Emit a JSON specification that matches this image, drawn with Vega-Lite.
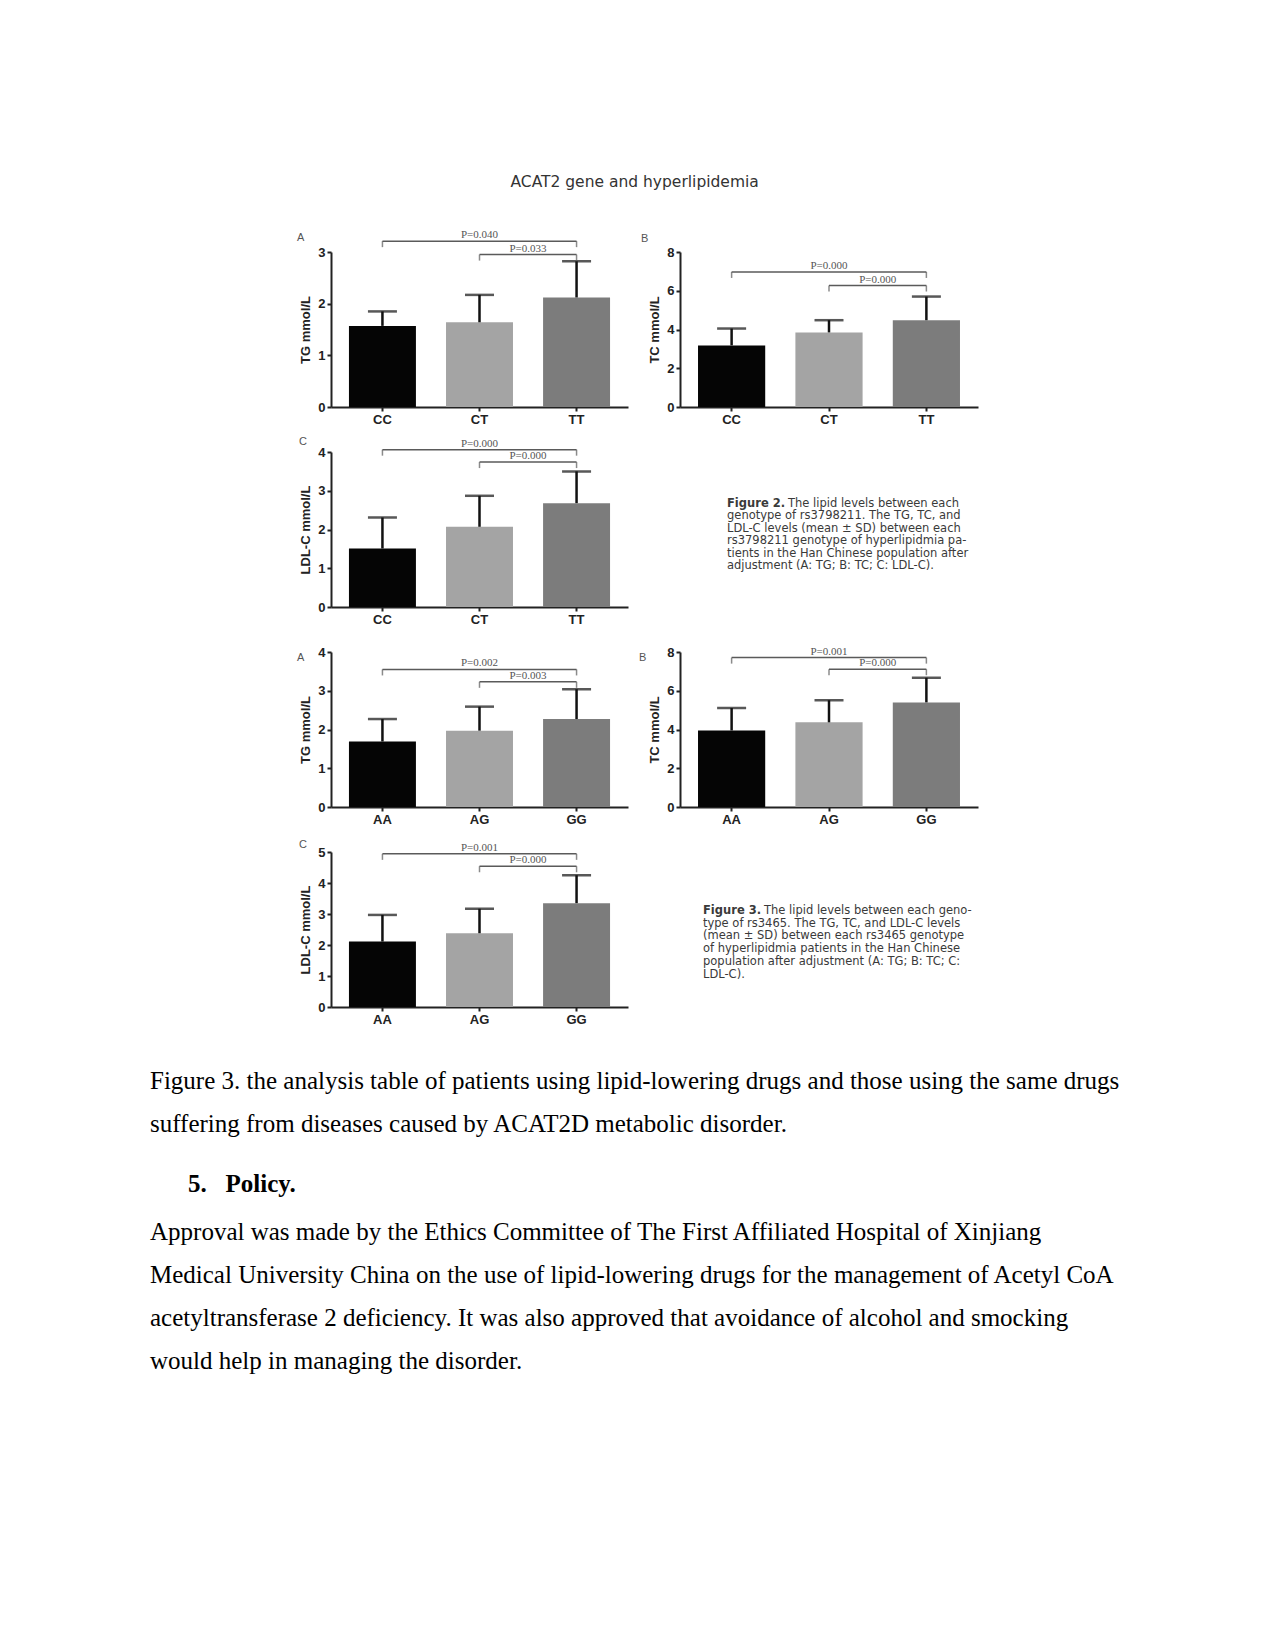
{
  "$schema": "https://vega.github.io/schema/vega-lite/v6.json",
  "background": "white",
  "padding": {"left": 150, "top": 174, "right": 10, "bottom": 10},
  "title": {"text": "ACAT2 gene and hyperlipidemia", "anchor": "middle", "frame": "bounds", "offset": 0, "dy": -32, "dx": 0, "baseline": "middle", "font": "DejaVu Sans", "fontSize": 15.5, "fontWeight": "normal", "color": "#333333"},
  "columns": 3,
  "spacing": {"row": 45, "column": 52},
  "align": "each",
  "bounds": "flush",
  "resolve": {"scale": {"color": "independent"}},
  "datasets": {
    "f2tg": [{"genotype": "CC", "mean": 1.57, "upper": 1.85}, {"genotype": "CT", "mean": 1.64, "upper": 2.17}, {"genotype": "TT", "mean": 2.12, "upper": 2.82}],
    "f2tg_p": [{"span": "long", "from": "CC", "to": "TT", "labelAt": "CT", "level": 3.21, "label": "P=0.040"}, {"span": "short", "from": "CT", "to": "TT", "labelAt": "TT", "level": 2.95, "label": "P=0.033"}],
    "f2tc": [{"genotype": "CC", "mean": 3.18, "upper": 4.05}, {"genotype": "CT", "mean": 3.85, "upper": 4.48}, {"genotype": "TT", "mean": 4.48, "upper": 5.7}],
    "f2tc_p": [{"span": "long", "from": "CC", "to": "TT", "labelAt": "CT", "level": 6.97, "label": "P=0.000"}, {"span": "short", "from": "CT", "to": "TT", "labelAt": "TT", "level": 6.27, "label": "P=0.000"}],
    "f2ldl": [{"genotype": "CC", "mean": 1.51, "upper": 2.31}, {"genotype": "CT", "mean": 2.07, "upper": 2.87}, {"genotype": "TT", "mean": 2.68, "upper": 3.5}],
    "f2ldl_p": [{"span": "long", "from": "CC", "to": "TT", "labelAt": "CT", "level": 4.06, "label": "P=0.000"}, {"span": "short", "from": "CT", "to": "TT", "labelAt": "TT", "level": 3.74, "label": "P=0.000"}],
    "f3tg": [{"genotype": "AA", "mean": 1.69, "upper": 2.27}, {"genotype": "AG", "mean": 1.97, "upper": 2.59}, {"genotype": "GG", "mean": 2.27, "upper": 3.04}],
    "f3tg_p": [{"span": "long", "from": "AA", "to": "GG", "labelAt": "AG", "level": 3.55, "label": "P=0.002"}, {"span": "short", "from": "AG", "to": "GG", "labelAt": "GG", "level": 3.23, "label": "P=0.003"}],
    "f3tc": [{"genotype": "AA", "mean": 3.95, "upper": 5.11}, {"genotype": "AG", "mean": 4.37, "upper": 5.51}, {"genotype": "GG", "mean": 5.4, "upper": 6.67}],
    "f3tc_p": [{"span": "long", "from": "AA", "to": "GG", "labelAt": "AG", "level": 7.71, "label": "P=0.001"}, {"span": "short", "from": "AG", "to": "GG", "labelAt": "GG", "level": 7.11, "label": "P=0.000"}],
    "f3ldl": [{"genotype": "AA", "mean": 2.11, "upper": 2.97}, {"genotype": "AG", "mean": 2.38, "upper": 3.17}, {"genotype": "GG", "mean": 3.35, "upper": 4.25}],
    "f3ldl_p": [{"span": "long", "from": "AA", "to": "GG", "labelAt": "AG", "level": 4.94, "label": "P=0.001"}, {"span": "short", "from": "AG", "to": "GG", "labelAt": "GG", "level": 4.54, "label": "P=0.000"}],
    "cap2": [
      {"line": 0, "part": "label", "text": "Figure 2."},
      {"line": 0, "part": "first", "text": "The lipid levels between each"},
      {"line": 1, "part": "rest", "text": "genotype of rs3798211. The TG, TC, and"},
      {"line": 2, "part": "rest", "text": "LDL-C levels (mean ± SD) between each"},
      {"line": 3, "part": "rest", "text": "rs3798211 genotype of hyperlipidmia pa-"},
      {"line": 4, "part": "rest", "text": "tients in the Han Chinese population after"},
      {"line": 5, "part": "rest", "text": "adjustment (A: TG; B: TC; C: LDL-C)."}
    ],
    "cap3": [
      {"line": 0, "part": "label", "text": "Figure 3."},
      {"line": 0, "part": "first", "text": "The lipid levels between each geno-"},
      {"line": 1, "part": "rest", "text": "type of rs3465. The TG, TC, and LDL-C levels"},
      {"line": 2, "part": "rest", "text": "(mean ± SD) between each rs3465 genotype"},
      {"line": 3, "part": "rest", "text": "of hyperlipidmia patients in the Han Chinese"},
      {"line": 4, "part": "rest", "text": "population after adjustment (A: TG; B: TC; C:"},
      {"line": 5, "part": "rest", "text": "LDL-C)."}
    ],
    "pagetext": [
      {"line": 0, "part": "caption", "text": "Figure 3. the analysis table of patients using lipid-lowering drugs and those using the same drugs"},
      {"line": 1, "part": "caption", "text": "suffering from diseases caused by ACAT2D metabolic disorder."},
      {"line": 2, "part": "heading", "text": "5.\u00a0\u00a0\u00a0Policy."},
      {"line": 3, "part": "body", "text": "Approval was made by the Ethics Committee of The First Affiliated Hospital of Xinjiang"},
      {"line": 4, "part": "body", "text": "Medical University China on the use of lipid-lowering drugs for the management of Acetyl CoA"},
      {"line": 5, "part": "body", "text": "acetyltransferase 2 deficiency. It was also approved that avoidance of alcohol and smocking"},
      {"line": 6, "part": "body", "text": "would help in managing the disorder."}
    ]
  },
  "concat": [
    {"width": 129, "height": 155, "data": {"values": [{}]}, "mark": {"type": "text"}, "encoding": {"text": {"value": ""}}},
    {
      "width": 297, "height": 155,
      "title": {"text": "A", "anchor": "start", "frame": "group", "offset": 0, "dx": -34, "dy": 20, "baseline": "middle", "font": "Liberation Sans", "fontSize": 11, "fontWeight": "normal", "color": "#555555"},
      "resolve": {"axis": {"x": "independent", "y": "independent"}},
      "layer": [
        {"data": {"name": "f2tg"}, "mark": {"type": "bar", "width": {"band": 0.69}},
         "encoding": {
           "x": {"field": "genotype", "type": "nominal", "scale": {"domain": ["CC", "CT", "TT"], "paddingInner": 0, "paddingOuter": 0.03}, "axis": {"title": null, "labelAngle": 0}},
           "y": {"field": "mean", "type": "quantitative", "scale": {"domain": [0, 3], "nice": false}, "axis": {"values": [0, 1, 2, 3], "title": "TG mmol/L", "labelAngle": 0, "labelOverlap": false}},
           "color": {"field": "genotype", "type": "nominal", "scale": {"domain": ["CC", "CT", "TT"], "range": ["#050505", "#a4a4a4", "#7c7c7c"]}, "legend": null}}},
        {"data": {"name": "f2tg"}, "mark": {"type": "rule", "color": "#111111", "strokeWidth": 2.5},
         "encoding": {"x": {"field": "genotype", "type": "nominal", "axis": null}, "y": {"field": "mean", "type": "quantitative", "scale": {"domain": [0, 3], "nice": false}, "axis": null}, "y2": {"field": "upper"}}},
        {"data": {"name": "f2tg"}, "mark": {"type": "tick", "color": "#111111", "thickness": 2.5, "size": 29},
         "encoding": {"x": {"field": "genotype", "type": "nominal", "axis": null}, "y": {"field": "upper", "type": "quantitative", "scale": {"domain": [0, 3], "nice": false}, "axis": null}}},
        {"data": {"name": "f2tg_p"}, "mark": {"type": "rule", "color": "#5a5a5a", "strokeWidth": 1.5},
         "encoding": {"x": {"field": "from", "type": "nominal", "axis": null}, "x2": {"field": "to"}, "y": {"field": "level", "type": "quantitative", "scale": {"domain": [0, 3], "nice": false}, "axis": null}}},
        {"data": {"name": "f2tg_p"}, "mark": {"type": "tick", "orient": "vertical", "color": "#5a5a5a", "thickness": 1.5, "size": 6, "yOffset": 3},
         "encoding": {"x": {"field": "from", "type": "nominal", "axis": null}, "y": {"field": "level", "type": "quantitative", "scale": {"domain": [0, 3], "nice": false}, "axis": null}}},
        {"data": {"name": "f2tg_p"}, "mark": {"type": "tick", "orient": "vertical", "color": "#5a5a5a", "thickness": 1.5, "size": 6, "yOffset": 3},
         "encoding": {"x": {"field": "to", "type": "nominal", "axis": null}, "y": {"field": "level", "type": "quantitative", "scale": {"domain": [0, 3], "nice": false}, "axis": null}}},
        {"data": {"name": "f2tg_p"}, "transform": [{"filter": "datum.span == 'long'"}], "mark": {"type": "text", "font": "Liberation Serif", "fontSize": 11, "color": "#555555", "baseline": "bottom", "dy": -1},
         "encoding": {"x": {"field": "labelAt", "type": "nominal", "axis": null}, "y": {"field": "level", "type": "quantitative", "scale": {"domain": [0, 3], "nice": false}, "axis": null}, "text": {"field": "label"}}},
        {"data": {"name": "f2tg_p"}, "transform": [{"filter": "datum.span == 'short'"}], "mark": {"type": "text", "font": "Liberation Serif", "fontSize": 11, "color": "#555555", "baseline": "bottom", "dy": -1},
         "encoding": {"x": {"field": "labelAt", "type": "nominal", "bandPosition": 0, "axis": null}, "y": {"field": "level", "type": "quantitative", "scale": {"domain": [0, 3], "nice": false}, "axis": null}, "text": {"field": "label"}}}
      ]
    },
    {
      "width": 298, "height": 155,
      "title": {"text": "B", "anchor": "start", "frame": "group", "offset": 0, "dx": -39, "dy": 3.5, "baseline": "middle", "font": "Liberation Sans", "fontSize": 11, "fontWeight": "normal", "color": "#555555"},
      "resolve": {"axis": {"x": "independent", "y": "independent"}},
      "layer": [
        {"data": {"name": "f2tc"}, "mark": {"type": "bar", "width": {"band": 0.69}},
         "encoding": {
           "x": {"field": "genotype", "type": "nominal", "scale": {"domain": ["CC", "CT", "TT"], "paddingInner": 0, "paddingOuter": 0.03}, "axis": {"title": null, "labelAngle": 0}},
           "y": {"field": "mean", "type": "quantitative", "scale": {"domain": [0, 8], "nice": false}, "axis": {"values": [0, 2, 4, 6, 8], "title": "TC mmol/L", "labelAngle": 0, "labelOverlap": false}},
           "color": {"field": "genotype", "type": "nominal", "scale": {"domain": ["CC", "CT", "TT"], "range": ["#050505", "#a4a4a4", "#7c7c7c"]}, "legend": null}}},
        {"data": {"name": "f2tc"}, "mark": {"type": "rule", "color": "#111111", "strokeWidth": 2.5},
         "encoding": {"x": {"field": "genotype", "type": "nominal", "axis": null}, "y": {"field": "mean", "type": "quantitative", "scale": {"domain": [0, 8], "nice": false}, "axis": null}, "y2": {"field": "upper"}}},
        {"data": {"name": "f2tc"}, "mark": {"type": "tick", "color": "#111111", "thickness": 2.5, "size": 29},
         "encoding": {"x": {"field": "genotype", "type": "nominal", "axis": null}, "y": {"field": "upper", "type": "quantitative", "scale": {"domain": [0, 8], "nice": false}, "axis": null}}},
        {"data": {"name": "f2tc_p"}, "mark": {"type": "rule", "color": "#5a5a5a", "strokeWidth": 1.5},
         "encoding": {"x": {"field": "from", "type": "nominal", "axis": null}, "x2": {"field": "to"}, "y": {"field": "level", "type": "quantitative", "scale": {"domain": [0, 8], "nice": false}, "axis": null}}},
        {"data": {"name": "f2tc_p"}, "mark": {"type": "tick", "orient": "vertical", "color": "#5a5a5a", "thickness": 1.5, "size": 6, "yOffset": 3},
         "encoding": {"x": {"field": "from", "type": "nominal", "axis": null}, "y": {"field": "level", "type": "quantitative", "scale": {"domain": [0, 8], "nice": false}, "axis": null}}},
        {"data": {"name": "f2tc_p"}, "mark": {"type": "tick", "orient": "vertical", "color": "#5a5a5a", "thickness": 1.5, "size": 6, "yOffset": 3},
         "encoding": {"x": {"field": "to", "type": "nominal", "axis": null}, "y": {"field": "level", "type": "quantitative", "scale": {"domain": [0, 8], "nice": false}, "axis": null}}},
        {"data": {"name": "f2tc_p"}, "transform": [{"filter": "datum.span == 'long'"}], "mark": {"type": "text", "font": "Liberation Serif", "fontSize": 11, "color": "#555555", "baseline": "bottom", "dy": -1},
         "encoding": {"x": {"field": "labelAt", "type": "nominal", "axis": null}, "y": {"field": "level", "type": "quantitative", "scale": {"domain": [0, 8], "nice": false}, "axis": null}, "text": {"field": "label"}}},
        {"data": {"name": "f2tc_p"}, "transform": [{"filter": "datum.span == 'short'"}], "mark": {"type": "text", "font": "Liberation Serif", "fontSize": 11, "color": "#555555", "baseline": "bottom", "dy": -1},
         "encoding": {"x": {"field": "labelAt", "type": "nominal", "bandPosition": 0, "axis": null}, "y": {"field": "level", "type": "quantitative", "scale": {"domain": [0, 8], "nice": false}, "axis": null}, "text": {"field": "label"}}}
      ]
    },
    {"width": 129, "height": 155, "data": {"values": [{}]}, "mark": {"type": "text"}, "encoding": {"text": {"value": ""}}},
    {
      "width": 297, "height": 155,
      "title": {"text": "C", "anchor": "start", "frame": "group", "offset": 0, "dx": -32, "dy": 15, "baseline": "middle", "font": "Liberation Sans", "fontSize": 11, "fontWeight": "normal", "color": "#555555"},
      "resolve": {"axis": {"x": "independent", "y": "independent"}},
      "layer": [
        {"data": {"name": "f2ldl"}, "mark": {"type": "bar", "width": {"band": 0.69}},
         "encoding": {
           "x": {"field": "genotype", "type": "nominal", "scale": {"domain": ["CC", "CT", "TT"], "paddingInner": 0, "paddingOuter": 0.03}, "axis": {"title": null, "labelAngle": 0}},
           "y": {"field": "mean", "type": "quantitative", "scale": {"domain": [0, 4], "nice": false}, "axis": {"values": [0, 1, 2, 3, 4], "title": "LDL-C mmol/L", "labelAngle": 0, "labelOverlap": false}},
           "color": {"field": "genotype", "type": "nominal", "scale": {"domain": ["CC", "CT", "TT"], "range": ["#050505", "#a4a4a4", "#7c7c7c"]}, "legend": null}}},
        {"data": {"name": "f2ldl"}, "mark": {"type": "rule", "color": "#111111", "strokeWidth": 2.5},
         "encoding": {"x": {"field": "genotype", "type": "nominal", "axis": null}, "y": {"field": "mean", "type": "quantitative", "scale": {"domain": [0, 4], "nice": false}, "axis": null}, "y2": {"field": "upper"}}},
        {"data": {"name": "f2ldl"}, "mark": {"type": "tick", "color": "#111111", "thickness": 2.5, "size": 29},
         "encoding": {"x": {"field": "genotype", "type": "nominal", "axis": null}, "y": {"field": "upper", "type": "quantitative", "scale": {"domain": [0, 4], "nice": false}, "axis": null}}},
        {"data": {"name": "f2ldl_p"}, "mark": {"type": "rule", "color": "#5a5a5a", "strokeWidth": 1.5},
         "encoding": {"x": {"field": "from", "type": "nominal", "axis": null}, "x2": {"field": "to"}, "y": {"field": "level", "type": "quantitative", "scale": {"domain": [0, 4], "nice": false}, "axis": null}}},
        {"data": {"name": "f2ldl_p"}, "mark": {"type": "tick", "orient": "vertical", "color": "#5a5a5a", "thickness": 1.5, "size": 6, "yOffset": 3},
         "encoding": {"x": {"field": "from", "type": "nominal", "axis": null}, "y": {"field": "level", "type": "quantitative", "scale": {"domain": [0, 4], "nice": false}, "axis": null}}},
        {"data": {"name": "f2ldl_p"}, "mark": {"type": "tick", "orient": "vertical", "color": "#5a5a5a", "thickness": 1.5, "size": 6, "yOffset": 3},
         "encoding": {"x": {"field": "to", "type": "nominal", "axis": null}, "y": {"field": "level", "type": "quantitative", "scale": {"domain": [0, 4], "nice": false}, "axis": null}}},
        {"data": {"name": "f2ldl_p"}, "transform": [{"filter": "datum.span == 'long'"}], "mark": {"type": "text", "font": "Liberation Serif", "fontSize": 11, "color": "#555555", "baseline": "bottom", "dy": -1},
         "encoding": {"x": {"field": "labelAt", "type": "nominal", "axis": null}, "y": {"field": "level", "type": "quantitative", "scale": {"domain": [0, 4], "nice": false}, "axis": null}, "text": {"field": "label"}}},
        {"data": {"name": "f2ldl_p"}, "transform": [{"filter": "datum.span == 'short'"}], "mark": {"type": "text", "font": "Liberation Serif", "fontSize": 11, "color": "#555555", "baseline": "bottom", "dy": -1},
         "encoding": {"x": {"field": "labelAt", "type": "nominal", "bandPosition": 0, "axis": null}, "y": {"field": "level", "type": "quantitative", "scale": {"domain": [0, 4], "nice": false}, "axis": null}, "text": {"field": "label"}}}
      ]
    },
    {
      "width": 298, "height": 155,
      "data": {"name": "cap2"},
      "encoding": {"y": {"field": "line", "type": "quantitative", "scale": {"domain": [0, 12.5], "reverse": true}, "axis": null}, "text": {"field": "text"}},
      "layer": [
        {"transform": [{"filter": "datum.part == 'label'"}], "mark": {"type": "text", "align": "left", "baseline": "middle", "font": "DejaVu Sans", "fontSize": 11.5, "fontWeight": "bold", "color": "#3a3a3a", "dy": 52}, "encoding": {"x": {"value": 47}}},
        {"transform": [{"filter": "datum.part == 'first'"}], "mark": {"type": "text", "align": "left", "baseline": "middle", "font": "DejaVu Sans", "fontSize": 11.5, "color": "#3a3a3a", "dy": 52}, "encoding": {"x": {"value": 108}}},
        {"transform": [{"filter": "datum.part == 'rest'"}], "mark": {"type": "text", "align": "left", "baseline": "middle", "font": "DejaVu Sans", "fontSize": 11.5, "color": "#3a3a3a", "dy": 52}, "encoding": {"x": {"value": 47}}}
      ]
    },
    {"width": 129, "height": 155, "data": {"values": [{}]}, "mark": {"type": "text"}, "encoding": {"text": {"value": ""}}},
    {
      "width": 297, "height": 155,
      "title": {"text": "A", "anchor": "start", "frame": "group", "offset": 0, "dx": -34, "dy": 22.5, "baseline": "middle", "font": "Liberation Sans", "fontSize": 11, "fontWeight": "normal", "color": "#555555"},
      "resolve": {"axis": {"x": "independent", "y": "independent"}},
      "layer": [
        {"data": {"name": "f3tg"}, "mark": {"type": "bar", "width": {"band": 0.69}},
         "encoding": {
           "x": {"field": "genotype", "type": "nominal", "scale": {"domain": ["AA", "AG", "GG"], "paddingInner": 0, "paddingOuter": 0.03}, "axis": {"title": null, "labelAngle": 0}},
           "y": {"field": "mean", "type": "quantitative", "scale": {"domain": [0, 4], "nice": false}, "axis": {"values": [0, 1, 2, 3, 4], "title": "TG mmol/L", "labelAngle": 0, "labelOverlap": false}},
           "color": {"field": "genotype", "type": "nominal", "scale": {"domain": ["AA", "AG", "GG"], "range": ["#050505", "#a4a4a4", "#7c7c7c"]}, "legend": null}}},
        {"data": {"name": "f3tg"}, "mark": {"type": "rule", "color": "#111111", "strokeWidth": 2.5},
         "encoding": {"x": {"field": "genotype", "type": "nominal", "axis": null}, "y": {"field": "mean", "type": "quantitative", "scale": {"domain": [0, 4], "nice": false}, "axis": null}, "y2": {"field": "upper"}}},
        {"data": {"name": "f3tg"}, "mark": {"type": "tick", "color": "#111111", "thickness": 2.5, "size": 29},
         "encoding": {"x": {"field": "genotype", "type": "nominal", "axis": null}, "y": {"field": "upper", "type": "quantitative", "scale": {"domain": [0, 4], "nice": false}, "axis": null}}},
        {"data": {"name": "f3tg_p"}, "mark": {"type": "rule", "color": "#5a5a5a", "strokeWidth": 1.5},
         "encoding": {"x": {"field": "from", "type": "nominal", "axis": null}, "x2": {"field": "to"}, "y": {"field": "level", "type": "quantitative", "scale": {"domain": [0, 4], "nice": false}, "axis": null}}},
        {"data": {"name": "f3tg_p"}, "mark": {"type": "tick", "orient": "vertical", "color": "#5a5a5a", "thickness": 1.5, "size": 6, "yOffset": 3},
         "encoding": {"x": {"field": "from", "type": "nominal", "axis": null}, "y": {"field": "level", "type": "quantitative", "scale": {"domain": [0, 4], "nice": false}, "axis": null}}},
        {"data": {"name": "f3tg_p"}, "mark": {"type": "tick", "orient": "vertical", "color": "#5a5a5a", "thickness": 1.5, "size": 6, "yOffset": 3},
         "encoding": {"x": {"field": "to", "type": "nominal", "axis": null}, "y": {"field": "level", "type": "quantitative", "scale": {"domain": [0, 4], "nice": false}, "axis": null}}},
        {"data": {"name": "f3tg_p"}, "transform": [{"filter": "datum.span == 'long'"}], "mark": {"type": "text", "font": "Liberation Serif", "fontSize": 11, "color": "#555555", "baseline": "bottom", "dy": -1},
         "encoding": {"x": {"field": "labelAt", "type": "nominal", "axis": null}, "y": {"field": "level", "type": "quantitative", "scale": {"domain": [0, 4], "nice": false}, "axis": null}, "text": {"field": "label"}}},
        {"data": {"name": "f3tg_p"}, "transform": [{"filter": "datum.span == 'short'"}], "mark": {"type": "text", "font": "Liberation Serif", "fontSize": 11, "color": "#555555", "baseline": "bottom", "dy": -1},
         "encoding": {"x": {"field": "labelAt", "type": "nominal", "bandPosition": 0, "axis": null}, "y": {"field": "level", "type": "quantitative", "scale": {"domain": [0, 4], "nice": false}, "axis": null}, "text": {"field": "label"}}}
      ]
    },
    {
      "width": 298, "height": 155,
      "title": {"text": "B", "anchor": "start", "frame": "group", "offset": 0, "dx": -41, "dy": 23, "baseline": "middle", "font": "Liberation Sans", "fontSize": 11, "fontWeight": "normal", "color": "#555555"},
      "resolve": {"axis": {"x": "independent", "y": "independent"}},
      "layer": [
        {"data": {"name": "f3tc"}, "mark": {"type": "bar", "width": {"band": 0.69}},
         "encoding": {
           "x": {"field": "genotype", "type": "nominal", "scale": {"domain": ["AA", "AG", "GG"], "paddingInner": 0, "paddingOuter": 0.03}, "axis": {"title": null, "labelAngle": 0}},
           "y": {"field": "mean", "type": "quantitative", "scale": {"domain": [0, 8], "nice": false}, "axis": {"values": [0, 2, 4, 6, 8], "title": "TC mmol/L", "labelAngle": 0, "labelOverlap": false}},
           "color": {"field": "genotype", "type": "nominal", "scale": {"domain": ["AA", "AG", "GG"], "range": ["#050505", "#a4a4a4", "#7c7c7c"]}, "legend": null}}},
        {"data": {"name": "f3tc"}, "mark": {"type": "rule", "color": "#111111", "strokeWidth": 2.5},
         "encoding": {"x": {"field": "genotype", "type": "nominal", "axis": null}, "y": {"field": "mean", "type": "quantitative", "scale": {"domain": [0, 8], "nice": false}, "axis": null}, "y2": {"field": "upper"}}},
        {"data": {"name": "f3tc"}, "mark": {"type": "tick", "color": "#111111", "thickness": 2.5, "size": 29},
         "encoding": {"x": {"field": "genotype", "type": "nominal", "axis": null}, "y": {"field": "upper", "type": "quantitative", "scale": {"domain": [0, 8], "nice": false}, "axis": null}}},
        {"data": {"name": "f3tc_p"}, "mark": {"type": "rule", "color": "#5a5a5a", "strokeWidth": 1.5},
         "encoding": {"x": {"field": "from", "type": "nominal", "axis": null}, "x2": {"field": "to"}, "y": {"field": "level", "type": "quantitative", "scale": {"domain": [0, 8], "nice": false}, "axis": null}}},
        {"data": {"name": "f3tc_p"}, "mark": {"type": "tick", "orient": "vertical", "color": "#5a5a5a", "thickness": 1.5, "size": 6, "yOffset": 3},
         "encoding": {"x": {"field": "from", "type": "nominal", "axis": null}, "y": {"field": "level", "type": "quantitative", "scale": {"domain": [0, 8], "nice": false}, "axis": null}}},
        {"data": {"name": "f3tc_p"}, "mark": {"type": "tick", "orient": "vertical", "color": "#5a5a5a", "thickness": 1.5, "size": 6, "yOffset": 3},
         "encoding": {"x": {"field": "to", "type": "nominal", "axis": null}, "y": {"field": "level", "type": "quantitative", "scale": {"domain": [0, 8], "nice": false}, "axis": null}}},
        {"data": {"name": "f3tc_p"}, "transform": [{"filter": "datum.span == 'long'"}], "mark": {"type": "text", "font": "Liberation Serif", "fontSize": 11, "color": "#555555", "baseline": "bottom", "dy": -1},
         "encoding": {"x": {"field": "labelAt", "type": "nominal", "axis": null}, "y": {"field": "level", "type": "quantitative", "scale": {"domain": [0, 8], "nice": false}, "axis": null}, "text": {"field": "label"}}},
        {"data": {"name": "f3tc_p"}, "transform": [{"filter": "datum.span == 'short'"}], "mark": {"type": "text", "font": "Liberation Serif", "fontSize": 11, "color": "#555555", "baseline": "bottom", "dy": -1},
         "encoding": {"x": {"field": "labelAt", "type": "nominal", "bandPosition": 0, "axis": null}, "y": {"field": "level", "type": "quantitative", "scale": {"domain": [0, 8], "nice": false}, "axis": null}, "text": {"field": "label"}}}
      ]
    },
    {"width": 129, "height": 155, "data": {"values": [{}]}, "mark": {"type": "text"}, "encoding": {"text": {"value": ""}}},
    {
      "width": 297, "height": 155,
      "title": {"text": "C", "anchor": "start", "frame": "group", "offset": 0, "dx": -32, "dy": 14.5, "baseline": "middle", "font": "Liberation Sans", "fontSize": 11, "fontWeight": "normal", "color": "#555555"},
      "resolve": {"axis": {"x": "independent", "y": "independent"}},
      "layer": [
        {"data": {"name": "f3ldl"}, "mark": {"type": "bar", "width": {"band": 0.69}},
         "encoding": {
           "x": {"field": "genotype", "type": "nominal", "scale": {"domain": ["AA", "AG", "GG"], "paddingInner": 0, "paddingOuter": 0.03}, "axis": {"title": null, "labelAngle": 0}},
           "y": {"field": "mean", "type": "quantitative", "scale": {"domain": [0, 5], "nice": false}, "axis": {"values": [0, 1, 2, 3, 4, 5], "title": "LDL-C mmol/L", "labelAngle": 0, "labelOverlap": false}},
           "color": {"field": "genotype", "type": "nominal", "scale": {"domain": ["AA", "AG", "GG"], "range": ["#050505", "#a4a4a4", "#7c7c7c"]}, "legend": null}}},
        {"data": {"name": "f3ldl"}, "mark": {"type": "rule", "color": "#111111", "strokeWidth": 2.5},
         "encoding": {"x": {"field": "genotype", "type": "nominal", "axis": null}, "y": {"field": "mean", "type": "quantitative", "scale": {"domain": [0, 5], "nice": false}, "axis": null}, "y2": {"field": "upper"}}},
        {"data": {"name": "f3ldl"}, "mark": {"type": "tick", "color": "#111111", "thickness": 2.5, "size": 29},
         "encoding": {"x": {"field": "genotype", "type": "nominal", "axis": null}, "y": {"field": "upper", "type": "quantitative", "scale": {"domain": [0, 5], "nice": false}, "axis": null}}},
        {"data": {"name": "f3ldl_p"}, "mark": {"type": "rule", "color": "#5a5a5a", "strokeWidth": 1.5},
         "encoding": {"x": {"field": "from", "type": "nominal", "axis": null}, "x2": {"field": "to"}, "y": {"field": "level", "type": "quantitative", "scale": {"domain": [0, 5], "nice": false}, "axis": null}}},
        {"data": {"name": "f3ldl_p"}, "mark": {"type": "tick", "orient": "vertical", "color": "#5a5a5a", "thickness": 1.5, "size": 6, "yOffset": 3},
         "encoding": {"x": {"field": "from", "type": "nominal", "axis": null}, "y": {"field": "level", "type": "quantitative", "scale": {"domain": [0, 5], "nice": false}, "axis": null}}},
        {"data": {"name": "f3ldl_p"}, "mark": {"type": "tick", "orient": "vertical", "color": "#5a5a5a", "thickness": 1.5, "size": 6, "yOffset": 3},
         "encoding": {"x": {"field": "to", "type": "nominal", "axis": null}, "y": {"field": "level", "type": "quantitative", "scale": {"domain": [0, 5], "nice": false}, "axis": null}}},
        {"data": {"name": "f3ldl_p"}, "transform": [{"filter": "datum.span == 'long'"}], "mark": {"type": "text", "font": "Liberation Serif", "fontSize": 11, "color": "#555555", "baseline": "bottom", "dy": -1},
         "encoding": {"x": {"field": "labelAt", "type": "nominal", "axis": null}, "y": {"field": "level", "type": "quantitative", "scale": {"domain": [0, 5], "nice": false}, "axis": null}, "text": {"field": "label"}}},
        {"data": {"name": "f3ldl_p"}, "transform": [{"filter": "datum.span == 'short'"}], "mark": {"type": "text", "font": "Liberation Serif", "fontSize": 11, "color": "#555555", "baseline": "bottom", "dy": -1},
         "encoding": {"x": {"field": "labelAt", "type": "nominal", "bandPosition": 0, "axis": null}, "y": {"field": "level", "type": "quantitative", "scale": {"domain": [0, 5], "nice": false}, "axis": null}, "text": {"field": "label"}}}
      ]
    },
    {
      "width": 298, "height": 155,
      "data": {"name": "cap3"},
      "encoding": {"y": {"field": "line", "type": "quantitative", "scale": {"domain": [0, 12.2], "reverse": true}, "axis": null}, "text": {"field": "text"}},
      "layer": [
        {"transform": [{"filter": "datum.part == 'label'"}], "mark": {"type": "text", "align": "left", "baseline": "middle", "font": "DejaVu Sans", "fontSize": 11.5, "fontWeight": "bold", "color": "#3a3a3a", "dy": 59}, "encoding": {"x": {"value": 23}}},
        {"transform": [{"filter": "datum.part == 'first'"}], "mark": {"type": "text", "align": "left", "baseline": "middle", "font": "DejaVu Sans", "fontSize": 11.5, "color": "#3a3a3a", "dy": 59}, "encoding": {"x": {"value": 84}}},
        {"transform": [{"filter": "datum.part == 'rest'"}], "mark": {"type": "text", "align": "left", "baseline": "middle", "font": "DejaVu Sans", "fontSize": 11.5, "color": "#3a3a3a", "dy": 59}, "encoding": {"x": {"value": 23}}}
      ]
    },
    {
      "width": 129, "height": 301,
      "data": {"name": "pagetext"},
      "encoding": {"y": {"field": "line", "type": "quantitative", "scale": {"domain": [0, 7], "reverse": true}, "axis": null}, "text": {"field": "text"}},
      "layer": [
        {"transform": [{"filter": "datum.part == 'caption'"}], "mark": {"type": "text", "align": "left", "baseline": "middle", "font": "Liberation Serif", "fontSize": 25, "color": "#000000", "dy": 28.5}, "encoding": {"x": {"value": 0}}},
        {"transform": [{"filter": "datum.part == 'heading'"}], "mark": {"type": "text", "align": "left", "baseline": "middle", "font": "Liberation Serif", "fontSize": 25, "fontWeight": "bold", "color": "#000000", "dy": 46}, "encoding": {"x": {"value": 38}}},
        {"transform": [{"filter": "datum.part == 'body'"}], "mark": {"type": "text", "align": "left", "baseline": "middle", "font": "Liberation Serif", "fontSize": 25, "color": "#000000", "dy": 51}, "encoding": {"x": {"value": 0}}}
      ]
    }
  ],
  "config": {
    "view": {"stroke": null},
    "axis": {"grid": false, "domainColor": "#222222", "domainWidth": 2, "tickColor": "#222222", "tickWidth": 2, "tickSize": 4, "labelFont": "Liberation Sans", "labelFontSize": 13, "labelFontWeight": "bold", "labelColor": "#222222", "labelPadding": 2, "titleFont": "Liberation Sans", "titleFontSize": 13, "titleFontWeight": "bold", "titleColor": "#222222", "titlePadding": 5},
    "axisX": {"labelAngle": 0}
  }
}
